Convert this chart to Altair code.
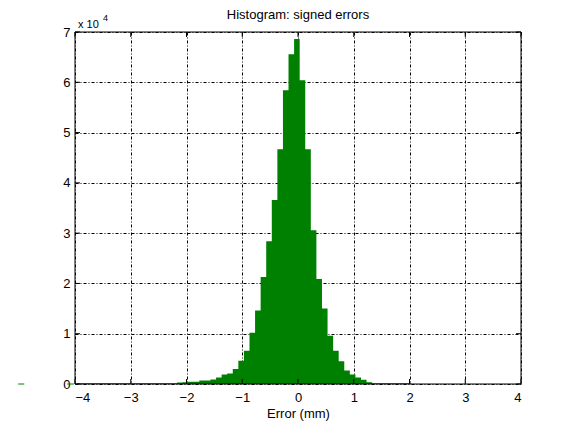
import altair as alt
import numpy as np
import pandas as pd

# ---- data ----
bin_width = 0.1
first_edge = -3.97
counts = [
    150, 150, 150, 150, 150, 150, 150, 150, 150, 150,
    150, 150, 150, 150, 150, 150, 150, 150,            # -3.92 .. -2.22
    300, 350, 450, 450,                                # -2.12 .. -1.82
    700, 700, 900, 1300, 1900, 2100, 3000, 4600, 6600, 10200,
    14600, 21300, 28400, 36600, 46700, 58400, 65600, 68600,  # .. -0.02
    60400, 46700, 30600, 20900, 15000, 9600, 6600, 4500, 2700, 1900,
    1300, 850, 350,                                    # .. 1.28
    150, 150, 150, 150, 150, 150, 150,                 # 1.38 .. 1.98
]
x_ticks = [-4, -3, -2, -1, 0, 1, 2, 3, 4]
y_ticks = [0, 10000, 20000, 30000, 40000, 50000, 60000, 70000]
dash_lo = [-5.02, -4.14, 4.89]
dash_hi = [-4.91, -4.02, 5.10]
title_text = "Histogram: signed errors"

# bin edges (n+1) and step heights (last one repeated to close the final bin)
edges = first_edge + bin_width * np.arange(len(counts) + 1)
steps = list(counts) + [counts[-1]]
df = pd.DataFrame({"edge": edges, "count": steps})
dash_df = pd.DataFrame({"a": dash_lo, "b": dash_hi})
xt_df = pd.DataFrame({"t": x_ticks})
yt_df = pd.DataFrame({"t": y_ticks})
one = pd.DataFrame({"k": [0]})

W, H = 446, 352
FONT = "Liberation Sans"
GREEN = "#008000"

xs = alt.Scale(domain=[-4, 4], nice=False, zero=False)
ys = alt.Scale(domain=[0, 70000], nice=False)

bars = alt.Chart(df).mark_area(color=GREEN, interpolate="step-after", opacity=1).encode(
    x=alt.X("edge:Q", scale=xs, axis=alt.Axis(
        values=x_ticks, title="Error (mm)", grid=True, ticks=False, domain=False,
        labelPadding=7, titlePadding=3, format="d")),
    y=alt.Y("count:Q", scale=ys, axis=alt.Axis(
        values=y_ticks, title=None, grid=True, ticks=False, domain=False,
        labelPadding=5, labelExpr="datum.value / 10000")),
    y2=alt.datum(0),
)

dashes = alt.Chart(dash_df).mark_rule(color=GREEN, strokeWidth=1).encode(
    x=alt.X("a:Q", scale=xs), x2="b:Q", y=alt.datum(0)
)

border = alt.Chart(one).mark_rect(fill=None, stroke="black", strokeWidth=1).encode(
    x=alt.value(0), x2=alt.value(W), y=alt.value(0), y2=alt.value(H)
)

tick_len = 5
xt_bot = alt.Chart(xt_df).mark_rule(color="black").encode(
    x=alt.X("t:Q", scale=xs), y=alt.value(H), y2=alt.value(H - tick_len))
xt_top = alt.Chart(xt_df).mark_rule(color="black").encode(
    x=alt.X("t:Q", scale=xs), y=alt.value(0), y2=alt.value(tick_len))
yt_left = alt.Chart(yt_df).mark_rule(color="black").encode(
    y=alt.Y("t:Q", scale=ys), x=alt.value(0), x2=alt.value(tick_len))
yt_right = alt.Chart(yt_df).mark_rule(color="black").encode(
    y=alt.Y("t:Q", scale=ys), x=alt.value(W), x2=alt.value(W - tick_len))

title = alt.Chart(one).mark_text(
    text=title_text, font=FONT, fontSize=13, align="center", baseline="alphabetic", color="black"
).encode(x=alt.value(W / 2), y=alt.value(-13))
exp_base = alt.Chart(one).mark_text(
    text="x 10", font=FONT, fontSize=11, align="left", baseline="alphabetic", color="black"
).encode(x=alt.value(3), y=alt.value(-4))
exp_sup = alt.Chart(one).mark_text(
    text="4", font=FONT, fontSize=9, align="left", baseline="alphabetic", color="black"
).encode(x=alt.value(28), y=alt.value(-11))

chart = alt.layer(
    bars, dashes, xt_bot, xt_top, yt_left, yt_right, border, title, exp_base, exp_sup
).properties(
    width=W, height=H,
    autosize=alt.AutoSizeParams(type="none"),
    padding={"left": 67, "top": 24, "right": 46, "bottom": 40},
).configure_view(stroke=None).configure_axis(
    gridColor="black", gridDash=[3, 2, 1, 2], gridOpacity=1, gridWidth=1,
    labelFont=FONT, labelFontSize=13, labelColor="black",
    titleFont=FONT, titleFontSize=13, titleFontWeight="normal", titleColor="black",
)

chart.save("out.html", embed_options={"renderer": "svg", "actions": False})
